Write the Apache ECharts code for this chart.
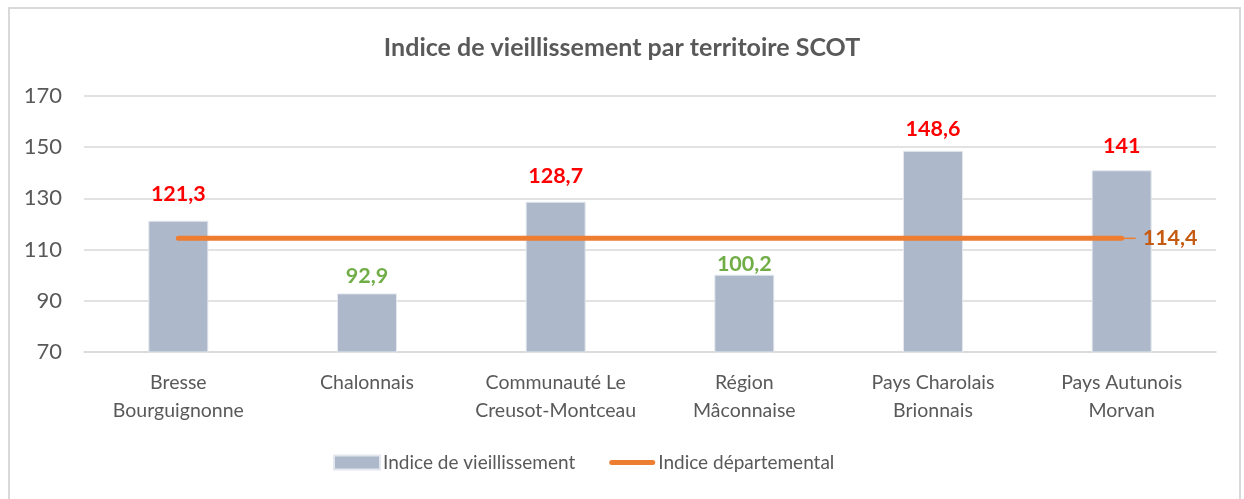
<!DOCTYPE html>
<html>
<head>
<meta charset="utf-8">
<script src="https://cdn.jsdelivr.net/npm/echarts@6/dist/echarts.min.js"></script>
<style>
  html, body { margin: 0; padding: 0; background: #fff; }
  #frame { position: absolute; left: 8px; top: 7px; width: 1233px; height: 510px; border: 2px solid #d9d9d9; box-sizing: border-box; }
  #chart { position: absolute; left: 0; top: 0; width: 1244px; height: 499px; }
</style>
</head>
<body>
<div id="frame"></div>
<div id="chart"></div>
<script>
const categories = ["Bresse\nBourguignonne", "Chalonnais", "Communauté Le\nCreusot-Montceau", "Région\nMâconnaise", "Pays Charolais\nBrionnais", "Pays Autunois\nMorvan"];
const vieillissement = [121.3, 92.9, 128.7, 100.2, 148.6, 141];
const departemental = [114.4, 114.4, 114.4, 114.4, 114.4, 114.4];
const yTicks = [70, 90, 110, 130, 150, 170];

// gap between each bar top and its value label (layout only)
const labelGaps = [16, 6, 15, 0, 11, 13];

const fontFamily = "Lato, 'Open Sans', sans-serif";
const fmt = v => String(v).replace(".", ",");

const chart = echarts.init(document.getElementById("chart"));
const option = {
  animation: false,
  textStyle: { fontFamily: fontFamily },
  title: {
    text: "Indice de vieillissement par territoire SCOT",
    left: "center",
    top: 30,
    textStyle: { fontSize: 25, fontWeight: "bold", color: "#595959", fontFamily: fontFamily },
  },
  legend: {
    bottom: 22,
    left: 328,
    itemGap: 34,
    itemWidth: 46,
    itemHeight: 14,
    symbolKeepAspect: true,
    textStyle: { fontSize: 19, color: "#595959", padding: [0, 0, 0, -2] },
    data: [
      { name: "Indice de vieillissement", icon: "rect" },
      {
        name: "Indice départemental",
        icon: "path://M2.5,0 L43.5,0 A2.5,2.5 0 0 1 43.5,5 L2.5,5 A2.5,2.5 0 0 1 2.5,0 Z",
        itemStyle: { color: "#ed7d31", borderWidth: 0 },
      },
    ],
  },
  grid: { left: 84, right: 28, top: 96, bottom: 147 },
  xAxis: {
    type: "category",
    data: categories,
    axisTick: { show: false },
    axisLine: { lineStyle: { color: "#d9d9d9", width: 1.5 } },
    axisLabel: { fontSize: 19.5, color: "#595959", lineHeight: 28, margin: 17, interval: 0 },
  },
  yAxis: {
    type: "value",
    min: yTicks[0],
    max: yTicks[yTicks.length - 1],
    interval: 20,
    axisLine: { show: false },
    axisTick: { show: false },
    splitLine: { lineStyle: { color: "#d9d9d9", width: 1.5 } },
    axisLabel: { fontSize: 22, color: "#595959", margin: 22 },
  },
  series: [
    {
      name: "Indice de vieillissement",
      type: "bar",
      barWidth: 60,
      data: vieillissement.map((v, i) => ({
        value: v,
        label: {
          color: v < departemental[0] ? "#70ad47" : "#ff0000",
          distance: labelGaps[i],
        },
      })),
      itemStyle: { color: "#adb9ca", borderColor: "#e4e8ee", borderWidth: 1 },
      label: {
        show: true,
        position: "top",
        fontSize: 21.5,
        fontWeight: "bold",
        formatter: p => fmt(p.value),
      },
    },
    {
      name: "Indice départemental",
      type: "line",
      data: departemental,
      symbol: "none",
      lineStyle: { color: "#ed7d31", width: 5, cap: "round" },
      itemStyle: { color: "#ed7d31" },
      label: { show: false },
      endLabel: {
        show: true,
        distance: 0,
        formatter: p => "{l|}" + "{v|" + fmt(p.value) + "}",
        rich: {
          l: { width: 14, height: 1.5, backgroundColor: "#ed7d31" },
          v: { fontSize: 21.5, fontWeight: "bold", color: "#c55a11", padding: [0, 0, 0, 7], fontFamily: fontFamily },
        },
      },
      z: 3,
    },
  ],
};
chart.setOption(option);

window.addEventListener("resize", () => {
  chart.resize();
});
</script>
</body>
</html>
